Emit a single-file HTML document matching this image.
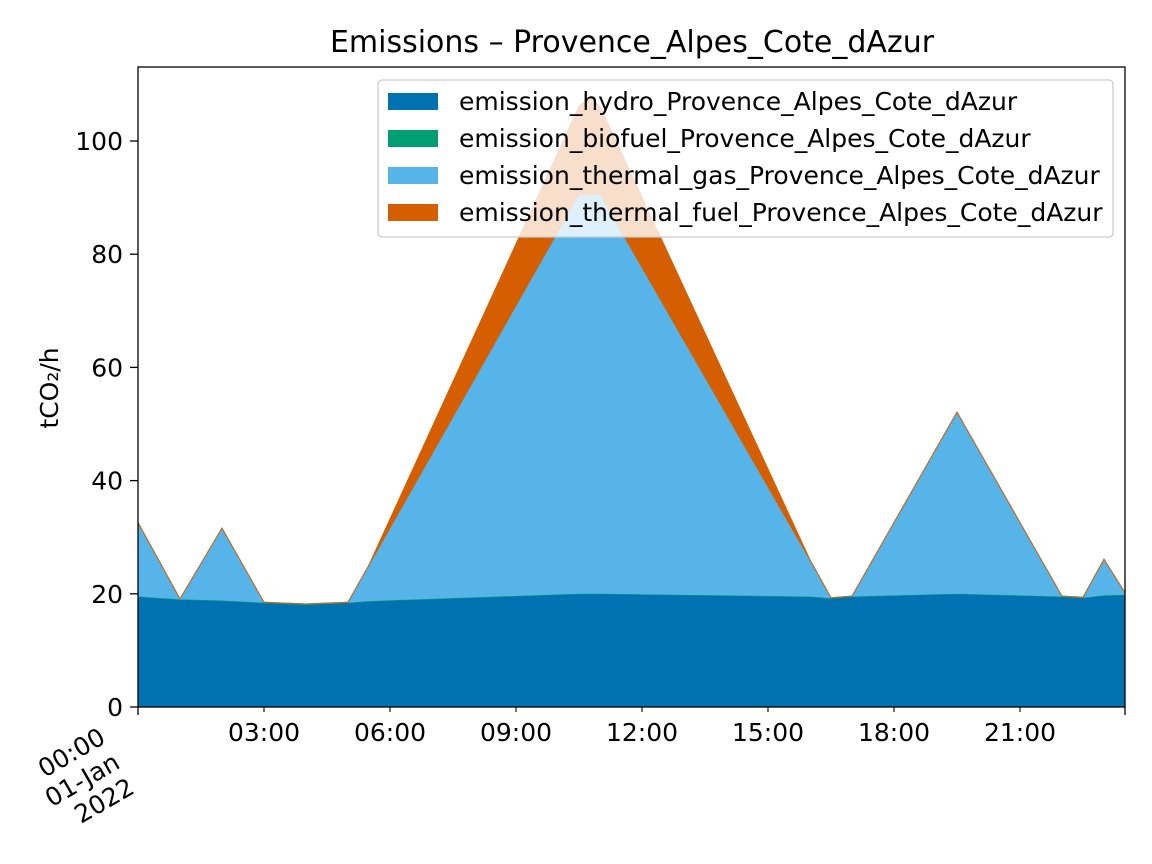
<!DOCTYPE html>
<html><head><meta charset="utf-8"><style>body{margin:0;background:#fff}svg{display:block;font-family:"DejaVu Sans","Liberation Sans",sans-serif}</style></head>
<body>
<svg id="c" width="1152" height="864"></svg>
<script>
const times=[0,1,2,3,4,5,5.5,10.5,10.75,11,16,16.5,17,19.5,22,22.5,23,23.5];
const hydro=[19.5,19.0,18.8,18.4,18.1,18.4,18.7,20,20,20,19.5,19.2,19.5,20,19.5,19.3,19.7,19.8];
const biofuel=[0.1,0.1,0.1,0.1,0.1,0.1,0.1,0.1,0.1,0.1,0.1,0.1,0.1,0.1,0.1,0.1,0.1,0.1];
const gas=[13,0,12.7,0,0,0,6.3,70.5,70.5,70.5,6.4,0,0,32,0,0,6.3,0.3];
const fuel=[0,0,0,0,0,0,0,15.5,17.2,15.5,0,0,0,0,0,0,0,0];
const yTicks=[0,20,40,60,80,100];
const xTicks=[3,6,9,12,15,18,21];
const xTickLabels=["03:00","06:00","09:00","12:00","15:00","18:00","21:00"];
const names=["emission_hydro_Provence_Alpes_Cote_dAzur","emission_biofuel_Provence_Alpes_Cote_dAzur","emission_thermal_gas_Provence_Alpes_Cote_dAzur","emission_thermal_fuel_Provence_Alpes_Cote_dAzur"];
const colors=["#0072b2","#009e73","#56b4e9","#d55e00"];
const L=138,R=1125,T=67,B=707;
const xs=h=>L+h*(R-L)/23.5;
const ys=v=>B-v*5.66;
const NS="http://www.w3.org/2000/svg";
const svg=document.getElementById('c');
function mk(t,a,p){const e=document.createElementNS(NS,t);for(const k in a)e.setAttribute(k,a[k]);(p||svg).appendChild(e);return e;}
const series=[hydro,biofuel,gas,fuel];
let base=times.map(()=>0);
series.forEach((s,i)=>{
  const top=base.map((b,j)=>b+s[j]);
  let d="M"+times.map((t,j)=>xs(t)+","+ys(top[j])).join("L");
  for(let j=times.length-1;j>=0;j--)d+="L"+xs(times[j])+","+ys(base[j]);
  const p=mk('path',{d:d+"Z",fill:colors[i],stroke:colors[i],'stroke-width':1});
  
  
  base=top;
});
const frame=mk('rect',{x:L,y:T,width:R-L,height:B-T,fill:'none',stroke:'#000','stroke-width':1.3});


yTicks.forEach(v=>{
  mk('line',{x1:L-8,x2:L,y1:ys(v),y2:ys(v),stroke:'#000','stroke-width':1.3});
  const t=mk('text',{x:L-15,y:ys(v)+9,'text-anchor':'end','font-size':25});t.textContent=v;
  
  
});
mk('line',{x1:L,x2:L,y1:B,y2:B+8,stroke:'#000','stroke-width':1.3});
mk('line',{x1:R,x2:R,y1:B,y2:B+8,stroke:'#000','stroke-width':1.3});
xTicks.forEach((h,i)=>{
  mk('line',{x1:xs(h),x2:xs(h),y1:B,y2:B+5,stroke:'#000','stroke-width':1.1});
  const t=mk('text',{x:xs(h),y:B+34,'text-anchor':'middle','font-size':25});t.textContent=xTickLabels[i];
  
  
});
const g=mk('g',{transform:`translate(107,742) rotate(-30)`});


["00:00","01-Jan","2022"].forEach((s,i)=>{const t=mk('text',{x:0,y:i*29,'text-anchor':'end','font-size':25},g);t.textContent=s;});
const ttl=mk('text',{x:632,y:52,'text-anchor':'middle','font-size':30});ttl.textContent="Emissions – Provence_Alpes_Cote_dAzur";


const yl=mk('text',{x:0,y:0,transform:'translate(58,388) rotate(-90)','text-anchor':'middle','font-size':25});yl.textContent="tCO₂/h";


const lg=mk('g',{});


mk('rect',{x:378,y:80,width:735,height:157,rx:4,fill:'#fff','fill-opacity':0.8,stroke:'#ccc','stroke-width':1.3},lg);
names.forEach((n,i)=>{
  const y=101+i*37;
  mk('rect',{x:388,y:y-8,width:50,height:17,fill:colors[i]},lg);
  const t=mk('text',{x:459,y:y+9,'font-size':25},lg);t.textContent=n;
  
  
});
</script>
</body></html>
